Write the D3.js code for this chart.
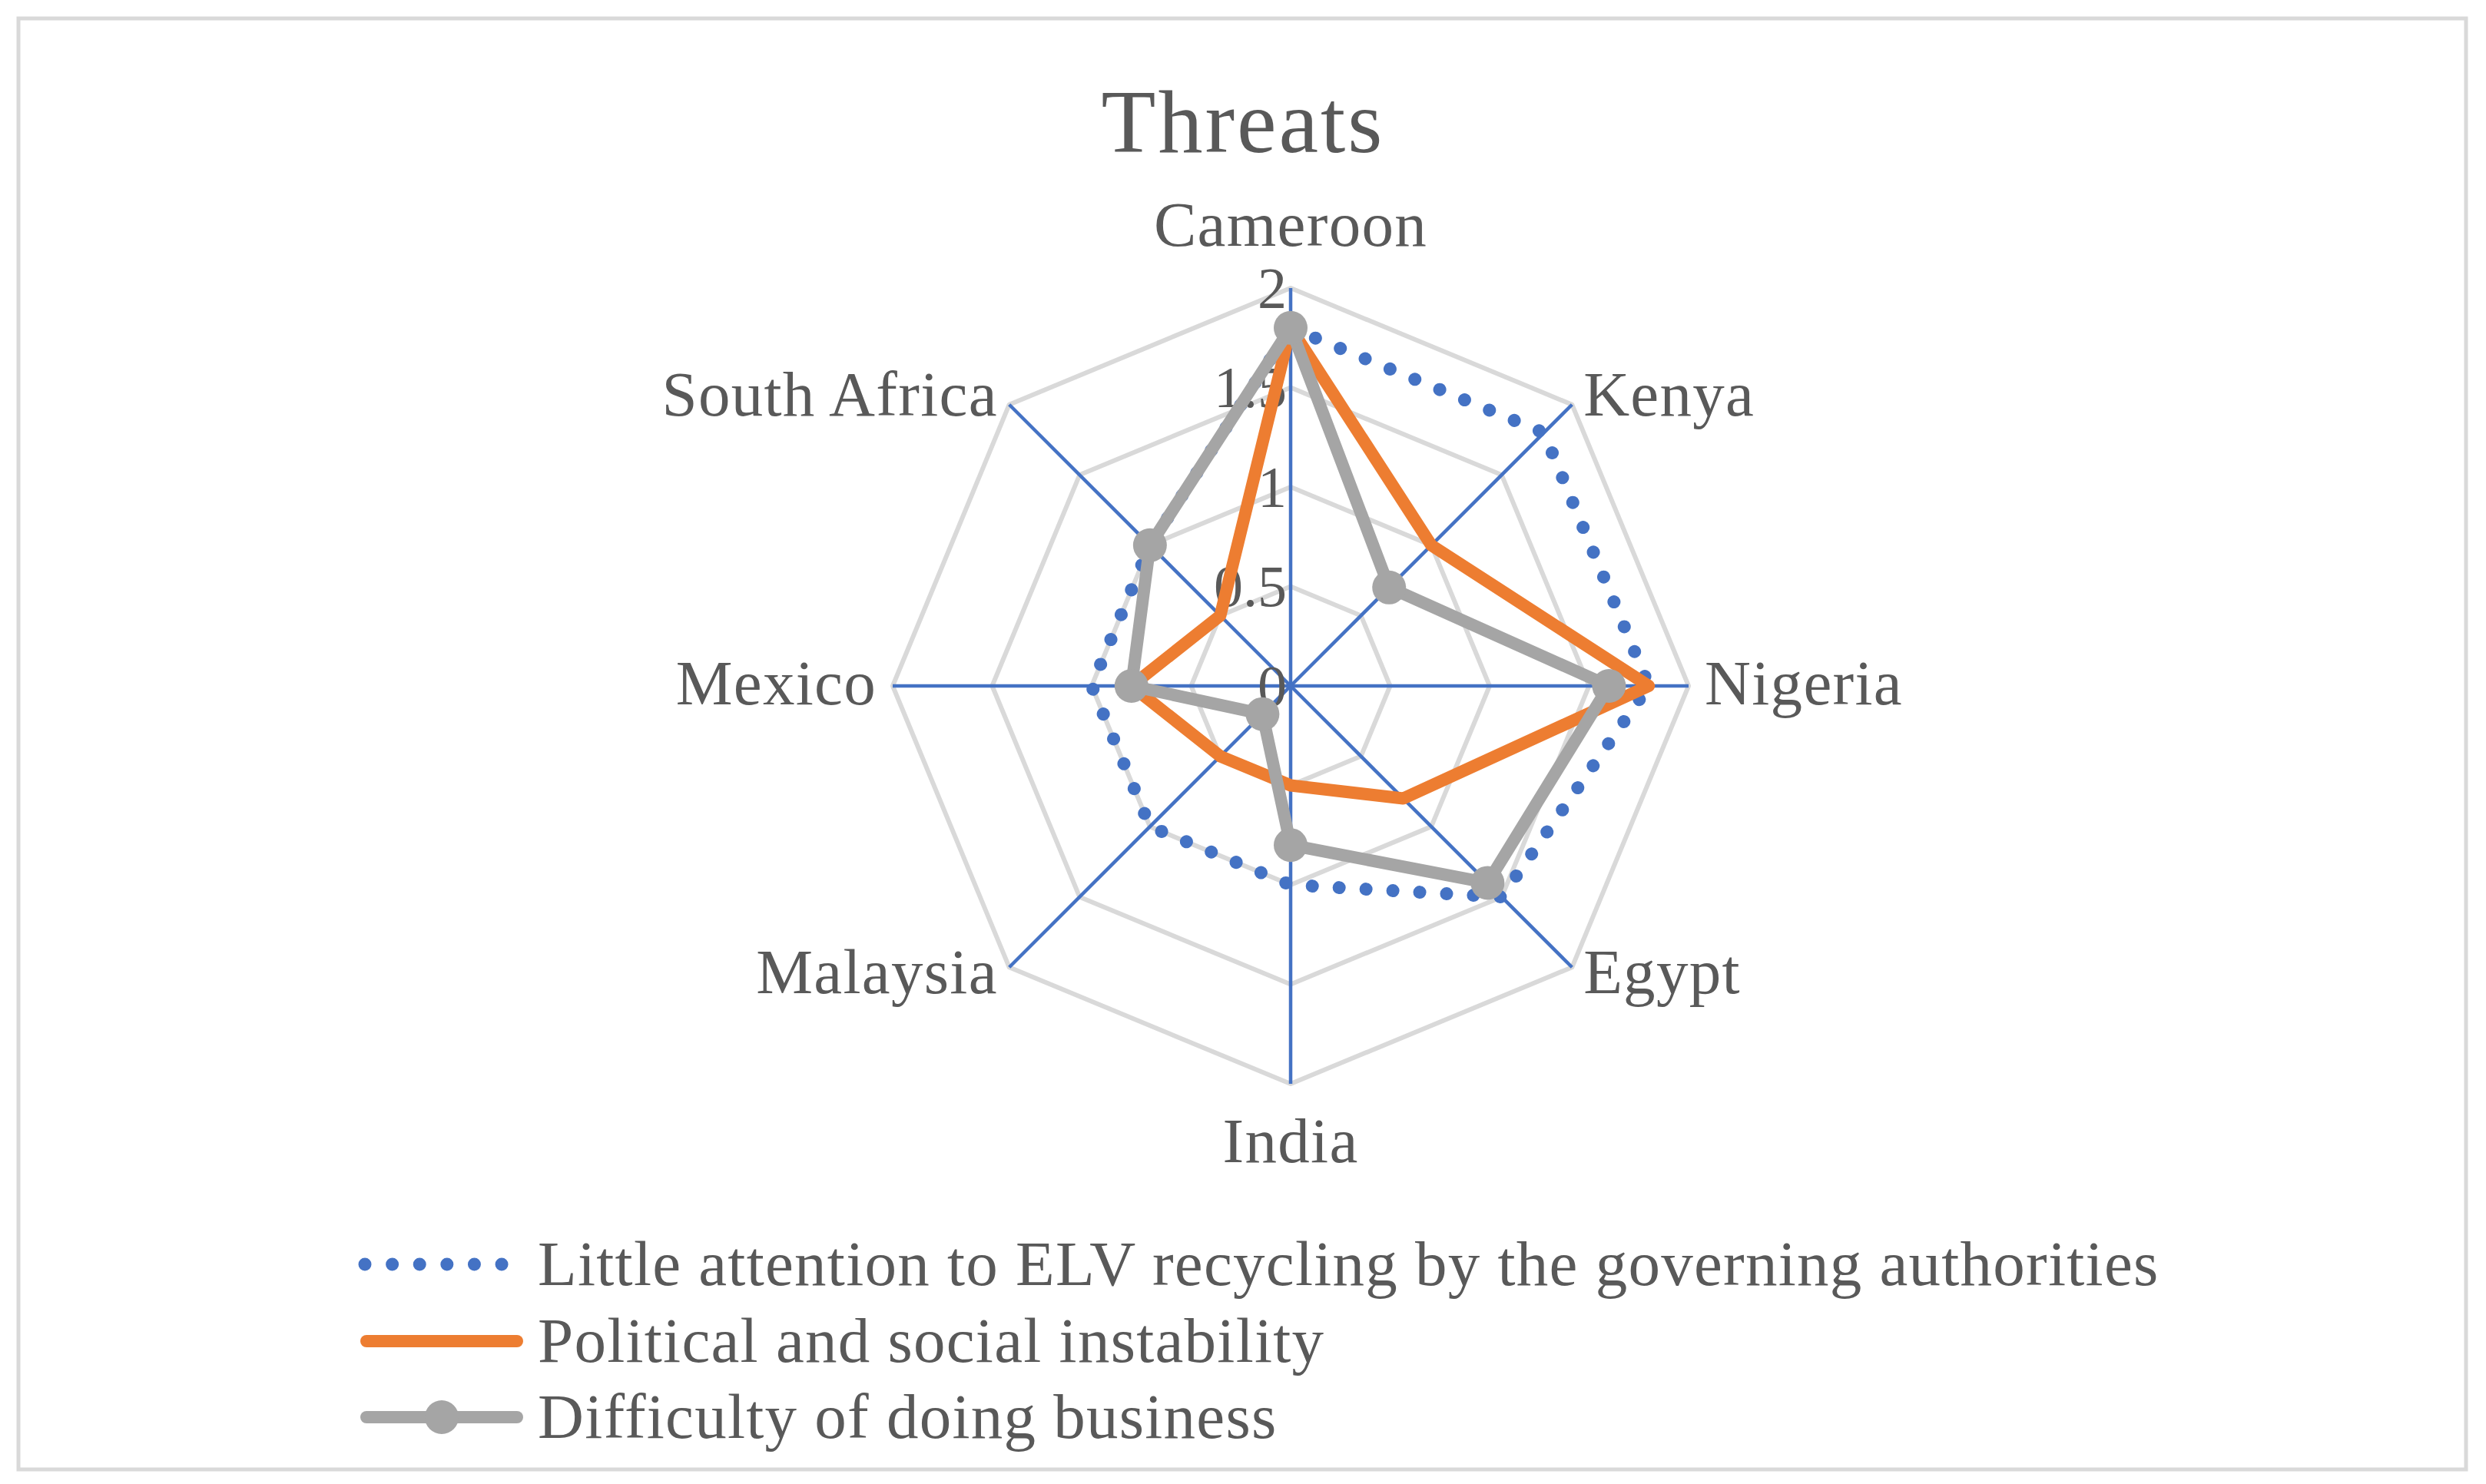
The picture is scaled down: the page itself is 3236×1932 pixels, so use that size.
<!DOCTYPE html>
<html>
<head>
<meta charset="utf-8">
<script src="https://cdn.jsdelivr.net/npm/d3@7"></script>
<style>
  html, body { margin: 0; padding: 0; background: #fff; }
  svg { display: block; }
  text { font-family: "Liberation Serif", "DejaVu Serif", serif; fill: #595959; }
</style>
</head>
<body>
<div id="chart"></div>
<script>
const categories = ["Cameroon", "Kenya", "Nigeria", "Egypt", "India", "Malaysia", "Mexico", "South Africa"]
const attentionValues = [1.8, 1.8, 1.8, 1.5, 1.0, 1.0, 1.0, 1.0]
const politicalValues = [1.8, 1.0, 1.8, 0.8, 0.5, 0.5, 0.8, 0.5]
const difficultyValues = [1.8, 0.7, 1.6, 1.4, 0.8, 0.2, 0.8, 1.0]
const tickValues = [0, 0.5, 1, 1.5, 2]
const tickLabels = ["0", "0.5", "1", "1.5", "2"]
const seriesNames = [
  "Little attention to ELV recycling by the governing authorities",
  "Political and social instability",
  "Difficulty of doing business"
]

const width = 3236
const height = 1932
const cx = 1680
const cy = 893
const radius = 518

const blue = "#4472C4"
const orange = "#ED7D31"
const gray = "#A5A5A5"
const gridColor = "#D9D9D9"

const series = [
  { name: seriesNames[0], values: attentionValues, color: blue, dotted: true, marker: false },
  { name: seriesNames[1], values: politicalValues, color: orange, dotted: false, marker: false },
  { name: seriesNames[2], values: difficultyValues, color: gray, dotted: false, marker: true }
]

const svg = d3.select("#chart").append("svg")
  .attr("width", width).attr("height", height)
  .attr("viewBox", `0 0 ${width} ${height}`)

// chart border
svg.append("rect")
  .attr("x", 24).attr("y", 24)
  .attr("width", 3186).attr("height", 1889)
  .attr("fill", "#fff").attr("stroke", gridColor).attr("stroke-width", 5)

svg.append("text")
  .attr("x", width / 2).attr("y", 198)
  .attr("text-anchor", "middle")
  .attr("font-size", 116)
  .attr("letter-spacing", 3)
  .text("Threats")

const r = d3.scaleLinear().domain([0, 2]).range([0, radius])
const angle = d3.scaleLinear().domain([0, categories.length]).range([0, 2 * Math.PI])

const g = svg.append("g").attr("transform", `translate(${cx},${cy})`)

const ringLine = d3.lineRadial()
  .angle((d, i) => angle(i))
  .radius(d => r(d))
  .curve(d3.curveLinearClosed)

// grid rings
g.append("g").selectAll("path")
  .data(tickValues.filter(v => v > 0))
  .join("path")
  .attr("d", v => ringLine(categories.map(() => v)))
  .attr("fill", "none")
  .attr("stroke", gridColor)
  .attr("stroke-width", 6)
  .attr("stroke-linejoin", "round")

// spokes
g.append("g").selectAll("line")
  .data(categories)
  .join("line")
  .attr("x1", 0).attr("y1", 0)
  .attr("x2", (d, i) => Math.sin(angle(i)) * r(2))
  .attr("y2", (d, i) => -Math.cos(angle(i)) * r(2))
  .attr("stroke", blue)
  .attr("stroke-width", 4.5)

// tick labels on the vertical axis
g.append("g").selectAll("text")
  .data(tickValues)
  .join("text")
  .attr("x", -5)
  .attr("y", v => -r(v))
  .attr("dy", "0.34em")
  .attr("text-anchor", "end")
  .attr("font-size", 76)
  .text((v, i) => tickLabels[i])

// category labels
g.append("g").selectAll("text")
  .data(categories)
  .join("text")
  .attr("font-size", 83)
  .attr("letter-spacing", 1.3)
  .each(function (d, i) {
    const a = angle(i)
    const s = Math.sin(a), c = Math.cos(a)
    const ex = s * r(2), ey = -c * r(2)
    const t = d3.select(this)
    if (Math.abs(s) < 0.01) {
      t.attr("text-anchor", "middle").attr("x", ex)
        .attr("y", c > 0 ? ey - 55 : ey + 102)
    } else {
      t.attr("text-anchor", s > 0 ? "start" : "end")
        .attr("x", ex + s * 21)
        .attr("y", ey - c * 14 + 24)
    }
  })
  .text(d => d)

// series
const seriesLine = d3.lineRadial()
  .angle((d, i) => angle(i))
  .radius(d => r(d))
  .curve(d3.curveLinearClosed)

series.forEach(s => {
  const p = g.append("path")
    .attr("d", seriesLine(s.values))
    .attr("fill", "none")
    .attr("stroke", s.color)
    .attr("stroke-linejoin", "round")
  if (s.dotted) {
    p.attr("stroke-width", 17).attr("stroke-linecap", "round").attr("stroke-dasharray", "0.01 35")
  } else {
    p.attr("stroke-width", 16)
  }
  if (s.marker) {
    g.append("g").selectAll("circle")
      .data(s.values)
      .join("circle")
      .attr("cx", (d, i) => Math.sin(angle(i)) * r(d))
      .attr("cy", (d, i) => -Math.cos(angle(i)) * r(d))
      .attr("r", 22)
      .attr("fill", s.color)
  }
})

// legend
const legend = svg.append("g")
const rowY = [1646, 1746, 1845]
series.forEach((s, i) => {
  const y = rowY[i]
  if (s.dotted) {
    legend.append("line")
      .attr("x1", 475).attr("x2", 654).attr("y1", y).attr("y2", y)
      .attr("stroke", s.color).attr("stroke-width", 17)
      .attr("stroke-linecap", "round").attr("stroke-dasharray", "0.01 35.6")
  } else {
    legend.append("line")
      .attr("x1", 477).attr("x2", 673).attr("y1", y).attr("y2", y)
      .attr("stroke", s.color).attr("stroke-width", 16)
      .attr("stroke-linecap", "round")
  }
  if (s.marker) {
    legend.append("circle").attr("cx", 575).attr("cy", y).attr("r", 22).attr("fill", s.color)
  }
  legend.append("text")
    .attr("x", 700).attr("y", y + 27)
    .attr("font-size", 83)
    .attr("letter-spacing", 1.25)
    .text(s.name)
})
</script>
</body>
</html>
